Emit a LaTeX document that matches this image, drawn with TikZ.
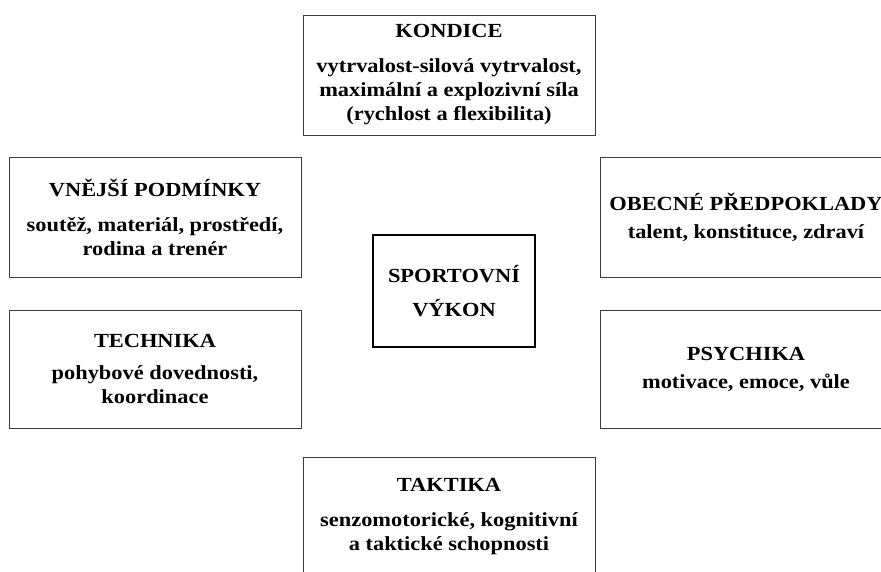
\documentclass[tikz,border=0pt]{standalone}
\usepackage{fontspec}
\setmainfont{Liberation Serif}[FakeStretch=1.12]
\usepackage{tikz}
\usetikzlibrary{positioning}
\definecolor{FrameGray}{RGB}{60,60,60}
\newcommand{\factortitle}[2][11pt]{#2\\[#1]}

\begin{document}
\begin{tikzpicture}[x=1pt,y=-1pt,
  factor/.style={draw=FrameGray,line width=0.9pt,align=center,
    minimum width=292pt,minimum height=120pt,inner sep=2pt,
    font=\fontsize{20}{24}\selectfont\bfseries},
  core/.style={factor,draw=black,line width=1.8pt,
    minimum width=162pt,minimum height=112pt}]
  \useasboundingbox (0,0) rectangle (881,572);
  % centre
  \node[core] (vykon) at (454,291) {SPORTOVNÍ\\[10pt]VÝKON};
  % top and bottom
  \node[factor] (kondice) at (449,75) {\factortitle{KONDICE}vytrvalost-silová vytrvalost,\\maximální a explozivní síla\\(rychlost a flexibilita)};
  \node[factor] (taktika) at (449,517) {\factortitle{TAKTIKA}senzomotorické, kognitivní\\a taktické schopnosti};
  % left column
  \node[factor] (vnejsi) at (155,217) {\factortitle{VNĚJŠÍ PODMÍNKY}soutěž, materiál, prostředí,\\rodina a trenér};
  \node[factor,minimum height=118pt] (technika) at (155,369) {\factortitle[8pt]{TECHNIKA}pohybové dovednosti,\\koordinace};
  % right column
  \node[factor] (obecne) at (746,217) {\factortitle[4pt]{OBECNÉ PŘEDPOKLADY}talent, konstituce, zdraví};
  \node[factor,minimum height=118pt] (psychika) at (746,369) {\factortitle[4pt]{PSYCHIKA}motivace, emoce, vůle};
\end{tikzpicture}
\end{document}
